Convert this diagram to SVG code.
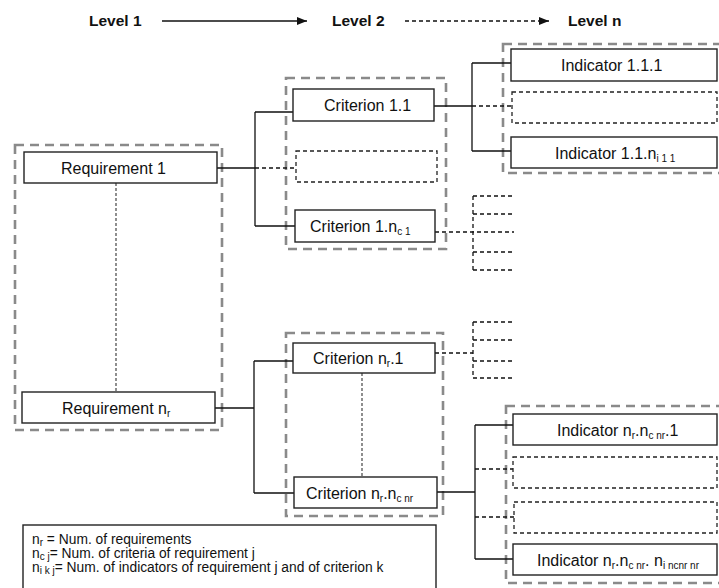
<svg xmlns="http://www.w3.org/2000/svg" width="719" height="588" viewBox="0 0 719 588">
<defs>
<style>
text{font-family:"Liberation Sans",Arial,sans-serif;fill:#111}
.lvl{font-size:15.5px;font-weight:bold}
.lbl{font-size:16px}
.sub{font-size:10px}
.leg{font-size:13.8px}
.lsub{font-size:10px}
.grp{fill:none;stroke:#8a8a8a;stroke-width:2.6;stroke-dasharray:9,6}
.box{fill:#fff;stroke:#222;stroke-width:1.4}
.dbox{fill:#fff;stroke:#222;stroke-width:1.3;stroke-dasharray:4,3}
.ln{fill:none;stroke:#111;stroke-width:1.3}
.dl{fill:none;stroke:#111;stroke-width:1.3;stroke-dasharray:4,3}
.dot{fill:none;stroke:#333;stroke-width:1.1;stroke-dasharray:3,2}
</style>
<marker id="ah" viewBox="0 0 10 10" refX="10" refY="5" markerWidth="10" markerHeight="10" markerUnits="userSpaceOnUse" orient="auto"><path d="M0,1 L10,5 L0,9 Z" fill="#111"/></marker>
</defs>
<rect width="719" height="588" fill="#fff"/>
<g id="header">
<text class="lvl" x="89" y="26">Level 1</text>
<text class="lvl" x="332" y="26">Level 2</text>
<text class="lvl" x="568" y="26">Level n</text>
<line class="ln" x1="162" y1="21" x2="307" y2="21" marker-end="url(#ah)"/>
<line class="dl" x1="405" y1="21" x2="549" y2="21" marker-end="url(#ah)"/>
</g>
<g id="groups">
<rect class="grp" x="15" y="145" width="207" height="285"/>
<rect class="grp" x="286" y="78" width="160" height="171"/>
<rect class="grp" x="286" y="333" width="157" height="183"/>
<rect class="grp" x="503" y="44" width="220" height="129"/>
<rect class="grp" x="506" y="406" width="217" height="177"/>
</g>
<g id="connectors">
<line class="dot" x1="116" y1="183" x2="116" y2="392"/>
<line class="dot" x1="362" y1="373" x2="362" y2="477"/>
<path class="ln" d="M217,168 H255 M255,112 V226 M255,112 H293 M255,226 H295"/>
<path class="dl" d="M255,168 H296"/>
<path class="ln" d="M434,106 H472 M472,63 V151 M472,63 H511 M472,151 H511"/>
<path class="dl" d="M472,106 H512"/>
<path class="dl" d="M435,232 H514 M473,196 V270 M473,196 H512 M473,214 H512 M473,252 H512 M473,270 H512"/>
<path class="ln" d="M215,408 H254 M254,361 V493 M254,361 H293 M254,493 H294"/>
<path class="dl" d="M435,353 H473 M473,322 V378 M473,322 H512 M473,340 H512 M473,361 H512 M473,378 H512"/>
<path class="ln" d="M437,492 H475 M475,425 V559 M475,425 H513 M475,559 H513"/>
<path class="dl" d="M475,469 H513 M475,517 H514"/>
</g>
<g id="req1"><rect class="box" x="24" y="152" width="193" height="31"/><text class="lbl" x="61" y="173.5">Requirement 1</text></g>
<g id="reqn"><rect class="box" x="22" y="392" width="193" height="31"/><text class="lbl" x="62" y="413.5">Requirement n<tspan class="sub" dy="3">r</tspan></text></g>
<g id="crit11"><rect class="box" x="293" y="89" width="141" height="32"/><text class="lbl" x="324" y="110.5">Criterion 1.1</text></g>
<g id="crit1x"><rect class="dbox" x="296" y="151" width="141" height="31"/></g>
<g id="crit1n"><rect class="box" x="295" y="210" width="140" height="32"/><text class="lbl" x="310" y="231.5">Criterion 1.n<tspan class="sub" dy="3">c 1</tspan></text></g>
<g id="critn1"><rect class="box" x="293" y="343" width="142" height="30"/><text class="lbl" x="313" y="363.5">Criterion n<tspan class="sub" dy="3">r</tspan><tspan dy="-3">.1</tspan></text></g>
<g id="critnn"><rect class="box" x="294" y="477" width="143" height="31"/><text class="lbl" x="306" y="498.5">Criterion n<tspan class="sub" dy="3">r</tspan><tspan dy="-3">.n</tspan><tspan class="sub" dy="3">c nr</tspan></text></g>
<g id="ind111"><rect class="box" x="511" y="49" width="206" height="32"/><text class="lbl" x="561" y="70.5">Indicator 1.1.1</text></g>
<g id="ind11x"><rect class="dbox" x="512" y="92" width="205" height="31"/></g>
<g id="ind11n"><rect class="box" x="511" y="137" width="206" height="31"/><text class="lbl" x="555" y="158.5">Indicator 1.1.n<tspan class="sub" dy="3">i 1 1</tspan></text></g>
<g id="indn1"><rect class="box" x="513" y="414" width="204" height="31"/><text class="lbl" x="557" y="435.5">Indicator n<tspan class="sub" dy="3">r</tspan><tspan dy="-3">.n</tspan><tspan class="sub" dy="3">c nr</tspan><tspan dy="-3">.1</tspan></text></g>
<g id="indnx1"><rect class="dbox" x="513" y="457" width="204" height="31"/></g>
<g id="indnx2"><rect class="dbox" x="514" y="502" width="203" height="31"/></g>
<g id="indnn"><rect class="box" x="513" y="544" width="204" height="31"/><text class="lbl" x="537" y="565.5">Indicator n<tspan class="sub" dy="3">r</tspan><tspan dy="-3">.n</tspan><tspan class="sub" dy="3">c nr</tspan><tspan dy="-3">. n</tspan><tspan class="sub" dy="3">i ncnr nr</tspan></text></g>
<g id="legend">
<rect class="box" x="23" y="525" width="413" height="70"/>
<text class="leg" x="32" y="544">n<tspan class="lsub" dy="2">r</tspan><tspan dy="-2"> = Num. of requirements</tspan></text>
<text class="leg" x="32" y="558">n<tspan class="lsub" dy="2">c j</tspan><tspan dy="-2">= Num. of criteria of requirement j</tspan></text>
<text class="leg" x="32" y="572">n<tspan class="lsub" dy="2">i k j</tspan><tspan dy="-2">= Num. of indicators of requirement j and of criterion k</tspan></text>
</g>
</svg>
